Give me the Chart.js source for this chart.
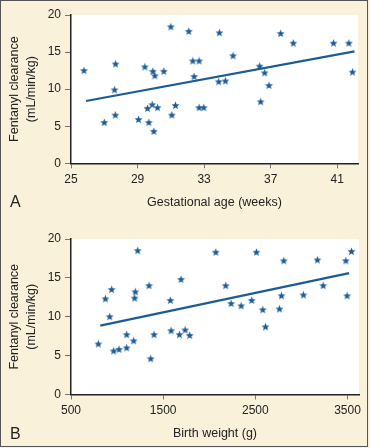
<!DOCTYPE html>
<html>
<head>
    <title>Fentanyl clearance</title>
    <style>
        body { margin: 0; background: #f9f1da; font-family: "Liberation Sans", Arial, sans-serif; }
        .page { position: relative; width: 370px; height: 448px; overflow: hidden; }
        .page canvas { position: absolute; left: 0; }
        .frame { position: absolute; left: 0; top: 0; width: 368px; height: 447px; box-sizing: border-box; border: 1px solid #555; pointer-events: none; }
        .panel { position: absolute; left: 10px; font-size: 16px; color: #222; line-height: 16px; }
    </style>
    <script src="https://cdn.jsdelivr.net/npm/chart.js"></script>
</head>
<body>
    <div class="page">
        <canvas id="chartA" width="370" height="222" style="top:0"></canvas>
        <canvas id="chartB" width="370" height="226" style="top:222px"></canvas>
        <div class="panel" style="top:194px">A</div>
        <div class="panel" style="top:426px">B</div>
        <div class="frame"></div>
    </div>

    <script>
        // Panel A: gestational age (weeks) vs clearance
        const ageX = [25.78, 27.0, 27.68, 27.62, 27.66, 29.06, 29.44, 29.92, 30.04, 29.6, 29.88, 30.2, 29.68, 29.98,
            30.58, 31.0, 31.06, 31.28, 32.08, 32.32, 32.4, 32.7, 32.7, 32.98, 33.92, 33.88, 34.28, 34.74,
            36.34, 36.4, 36.64, 36.9, 37.6, 38.36, 40.78, 41.7, 41.92];
        const ageY = [12.5, 5.5, 13.4, 9.9, 6.5, 5.9, 13.0, 12.4, 11.8, 7.4, 7.9, 7.5, 5.5, 4.3,
            12.4, 18.4, 6.5, 7.8, 17.8, 13.8, 11.7, 13.8, 7.5, 7.5, 17.6, 11.0, 11.1, 14.5,
            13.1, 8.3, 12.2, 10.5, 17.5, 16.2, 16.2, 16.2, 12.3];
        const ageFitX = [25.9, 42.04];
        const ageFitY = [8.4, 15.1];
        const ageTicks = [25, 29, 33, 37, 41];

        // Panel B: birth weight (g) vs clearance
        const weightX = [797, 873, 920, 941, 963, 1021, 1104, 1104, 1180, 1191, 1198, 1224, 1347, 1365, 1401,
            1578, 1586, 1676, 1694, 1738, 1788, 2071, 2179, 2237, 2346, 2461, 2512, 2581, 2610,
            2762, 2784, 2809, 3022, 3174, 3236, 3482, 3496, 3543];
        const weightY = [6.5, 12.3, 10.0, 13.5, 5.6, 5.8, 7.7, 6.0, 6.9, 12.4, 13.2, 18.5, 14.0, 4.6, 7.7,
            12.1, 8.2, 7.7, 14.8, 8.3, 7.6, 18.3, 14.0, 11.7, 11.4, 12.1, 18.3, 10.9, 8.7,
            11.0, 12.7, 17.2, 12.8, 17.3, 14.0, 17.2, 12.7, 18.4];
        const weightFitX = [818, 3518];
        const weightFitY = [8.85, 15.62];
        const weightTicks = [500, 1500, 2500, 3500];

        const clearanceTicks = [0, 5, 10, 15, 20];

        const blue = '#1b5c95';
        const textColor = '#222';
        const fontFamily = '"Liberation Sans", Arial, sans-serif';

        // five pointed star used as the marker
        function makeStar() {
            const c = document.createElement('canvas');
            c.width = 9; c.height = 9;
            const g = c.getContext('2d');
            g.fillStyle = blue;
            g.beginPath();
            for (let i = 0; i < 10; i++) {
                const r = i % 2 === 0 ? 4.2 : 1.8;
                const a = -Math.PI / 2 + i * Math.PI / 5;
                const px = 4.5 + r * Math.cos(a), py = 4.7 + r * Math.sin(a);
                if (i === 0) g.moveTo(px, py); else g.lineTo(px, py);
            }
            g.closePath();
            g.fill();
            return c;
        }
        const star = makeStar();

        const whiteArea = {
            id: 'whiteArea',
            beforeDraw(chart) {
                const a = chart.chartArea;
                chart.ctx.save();
                chart.ctx.fillStyle = '#ffffff';
                chart.ctx.fillRect(a.left, a.top, a.right - a.left, a.bottom - a.top);
                chart.ctx.restore();
            }
        };

        function pairs(xs, ys) {
            return xs.map((x, i) => ({ x: x, y: ys[i] }));
        }

        function makeChart(id, o) {
            return new Chart(document.getElementById(id), {
                type: 'scatter',
                data: {
                    datasets: [{
                        data: pairs(o.xs, o.ys),
                        pointStyle: star,
                        pointRadius: 4,
                        pointHoverRadius: 4
                    }, {
                        type: 'line',
                        data: pairs(o.fitX, o.fitY),
                        borderColor: blue,
                        borderWidth: 2.2,
                        pointRadius: 0,
                        fill: false
                    }]
                },
                options: {
                    responsive: false,
                    animation: false,
                    events: [],
                    layout: { padding: { left: 0, right: o.padRight, top: o.padTop, bottom: 0 } },
                    plugins: { legend: { display: false }, tooltip: { enabled: false } },
                    scales: {
                        x: {
                            type: 'linear',
                            min: o.min, max: o.max,
                            afterBuildTicks: s => { s.ticks = o.ticks.map(v => ({ value: v })); },
                            afterFit: s => { s.height = o.xHeight; },
                            grid: { drawOnChartArea: false, drawTicks: true, tickLength: 5, color: '#777', lineWidth: 1 },
                            border: { color: '#222', width: 1.5 },
                            ticks: {
                                color: textColor, font: { family: fontFamily, size: 12 }, padding: 4, maxRotation: 0,
                                callback: v => String(v)
                            },
                            title: {
                                display: true, text: o.xTitle, color: textColor,
                                font: { family: fontFamily, size: 12.5 },
                                padding: { top: 0, bottom: o.titlePad }
                            }
                        },
                        y: {
                            min: 0, max: 20,
                            afterBuildTicks: s => { s.ticks = clearanceTicks.map(v => ({ value: v })); },
                            afterFit: s => { s.width = 71; },
                            grid: { drawOnChartArea: false, drawTicks: true, tickLength: 6, color: '#777', lineWidth: 1 },
                            border: { color: '#222', width: 1.5 },
                            ticks: { color: textColor, font: { family: fontFamily, size: 12 }, padding: 4, callback: v => String(v) },
                            title: {
                                display: true, text: ['Fentanyl clearance', '(mL/min/kg)'], color: textColor,
                                font: { family: fontFamily, size: 12.5, lineHeight: 1.35 },
                                padding: { top: 6.5, bottom: 0 }
                            }
                        }
                    }
                },
                plugins: [whiteArea]
            });
        }

        makeChart('chartA', {
            xs: ageX, ys: ageY, fitX: ageFitX, fitY: ageFitY, ticks: ageTicks,
            min: 25, max: 42.25, padRight: 12, padTop: 15, xHeight: 58.7, titlePad: 11.5,
            xTitle: 'Gestational age (weeks)'
        });

        makeChart('chartB', {
            xs: weightX, ys: weightY, fitX: weightFitX, fitY: weightFitY, ticks: weightTicks,
            min: 500, max: 3625, padRight: 11, padTop: 17, xHeight: 53.5, titlePad: 6.5,
            xTitle: 'Birth weight (g)'
        });
    </script>
</body>
</html>
